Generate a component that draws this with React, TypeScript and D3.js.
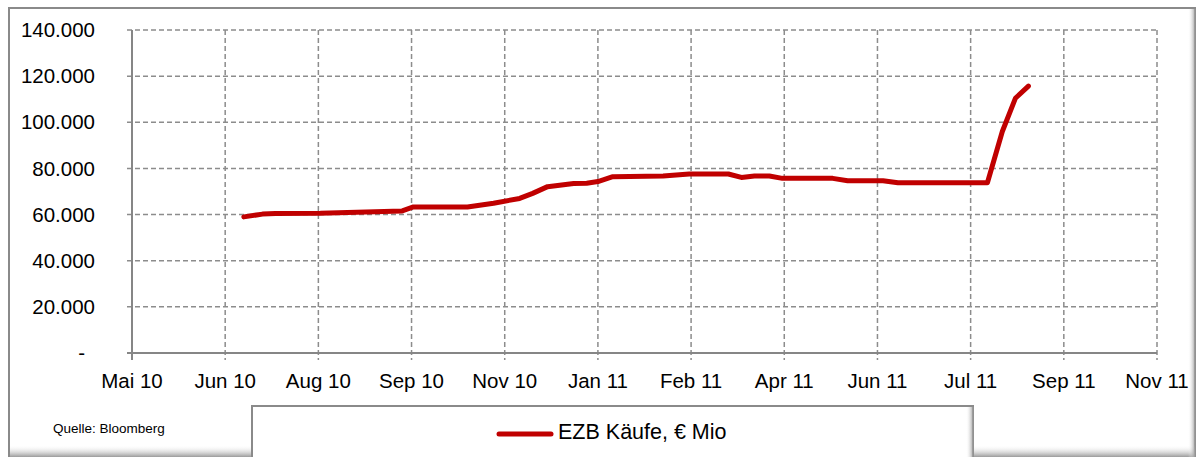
import * as d3 from 'd3';

// weekly SMP holdings (EZB Käufe), € Mio
const dates = [
    '2010-06-30', '2010-07-10', '2010-07-17', '2010-08-10', '2010-09-23', '2010-09-29',
    '2010-10-28', '2010-11-11', '2010-11-25', '2010-12-02', '2010-12-10', '2010-12-24',
    '2010-12-31', '2011-01-06', '2011-01-14', '2011-02-10', '2011-02-24', '2011-03-17',
    '2011-03-24', '2011-03-31', '2011-04-08', '2011-04-15', '2011-05-12', '2011-05-20',
    '2011-06-08', '2011-06-16', '2011-08-03', '2011-08-11', '2011-08-18', '2011-08-25',
];
const values = [
    59000, 60200, 60500, 60600, 61600, 63300,
    63300, 64900, 67000, 69200, 72100, 73500,
    73600, 74300, 76400, 76700, 77600, 77600,
    76100, 76700, 76700, 75700, 75700, 74700,
    74700, 73800, 73800, 96000, 110400, 115700,
];

const tickDates = [
    '2010-05-01', '2010-06-20', '2010-08-09', '2010-09-28', '2010-11-17', '2011-01-06',
    '2011-02-25', '2011-04-16', '2011-06-05', '2011-07-25', '2011-09-13', '2011-11-02',
];
const tickLabels = [
    'Mai 10', 'Jun 10', 'Aug 10', 'Sep 10', 'Nov 10', 'Jan 11',
    'Feb 11', 'Apr 11', 'Jun 11', 'Jul 11', 'Sep 11', 'Nov 11',
];
const yTicks = [0, 20000, 40000, 60000, 80000, 100000, 120000, 140000];

const seriesName = 'EZB Käufe, € Mio';
const source = 'Quelle: Bloomberg';

const W = 1200;
const H = 457;
const plot = { left: 132, right: 1157, top: 30, bottom: 353 };
const font = '"Liberation Sans", Arial, sans-serif';
const red = '#c00000';
const gridColor = '#8c8c8c';

const de = d3.formatLocale({ decimal: ',', thousands: '.', grouping: [3], currency: ['', '€'] });
const fmt = de.format(',.0f');

export default function App() {
    const parse = d3.utcParse('%Y-%m-%d');
    const ticks = tickDates.map((d) => parse(d) as Date);
    const x = d3.scaleUtc().domain([ticks[0], ticks[ticks.length - 1]]).range([plot.left, plot.right]);
    const y = d3.scaleLinear().domain([0, 140000]).range([plot.bottom, plot.top]);

    const points = dates.map((d, i) => ({ date: parse(d) as Date, value: values[i] }));
    const line = d3
        .line<{ date: Date; value: number }>()
        .x((p) => x(p.date))
        .y((p) => y(p.value));

    return (
        <svg width={W} height={H} style={{ position: 'absolute', left: 0, top: 0, background: '#fff' }}>
            <defs>
                <linearGradient id="shadeBottom" x1="0" y1="0" x2="0" y2="1">
                    <stop offset="0" stopColor="#fff" stopOpacity={0} />
                    <stop offset="1" stopColor="#9a9a9a" />
                </linearGradient>
                <linearGradient id="shadeRight" x1="0" y1="0" x2="1" y2="0">
                    <stop offset="0" stopColor="#fff" stopOpacity={0} />
                    <stop offset="1" stopColor="#8a8a8a" />
                </linearGradient>
            </defs>

            {/* outer frame */}
            <rect x={9} y={8} width={1186} height={460} fill="#fff" stroke="#8a8a8a" strokeWidth={2} />
            <rect x={10} y={445} width={1185} height={12} fill="url(#shadeBottom)" />
            <rect x={1188} y={9} width={8} height={448} fill="url(#shadeRight)" />

            {/* grid */}
            {yTicks.slice(1).map((t) => (
                <line key={'gy' + t} x1={plot.left - 5} x2={plot.right} y1={y(t)} y2={y(t)}
                    stroke={gridColor} strokeWidth={1.5} strokeDasharray="5,3" />
            ))}
            {ticks.slice(1).map((t, i) => (
                <line key={'gx' + i} x1={x(t)} x2={x(t)} y1={plot.top} y2={plot.bottom + 7}
                    stroke={gridColor} strokeWidth={1.5} strokeDasharray="5,3" />
            ))}

            {/* axes */}
            <line x1={plot.left} x2={plot.left} y1={plot.top} y2={plot.bottom + 7} stroke="#868686" strokeWidth={2} />
            <line x1={plot.left - 5} x2={plot.right} y1={plot.bottom} y2={plot.bottom} stroke="#868686" strokeWidth={2} />

            {yTicks.map((t) => (
                <text key={'ly' + t} x={t === 0 ? 85 : 95} y={y(t)} dy="0.35em" textAnchor="end"
                    fontFamily={font} fontSize={20.5} fill="#000">
                    {t === 0 ? '-' : fmt(t)}
                </text>
            ))}
            {ticks.map((t, i) => (
                <text key={'lx' + i} x={x(t)} y={381} dy="0.35em" textAnchor="middle"
                    fontFamily={font} fontSize={20.5} fill="#000">
                    {tickLabels[i]}
                </text>
            ))}

            {/* series */}
            <path d={line(points) ?? ''} fill="none" stroke={red} strokeWidth={5}
                strokeLinejoin="round" strokeLinecap="round" />

            {/* source */}
            <text x={53} y={428} dy="0.35em" fontFamily={font} fontSize={13.5} fill="#000">{source}</text>

            {/* legend */}
            <rect x={252} y={406} width={721} height={60} fill="#fff" stroke="#8a8a8a" strokeWidth={2} />
            <rect x={966} y={407} width={8} height={50} fill="url(#shadeRight)" />
            <line x1={499} x2={551} y1={434} y2={434} stroke={red} strokeWidth={5} strokeLinecap="round" />
            <text x={558} y={431} dy="0.35em" fontFamily={font} fontSize={21.5} fill="#000">{seriesName}</text>
        </svg>
    );
}
